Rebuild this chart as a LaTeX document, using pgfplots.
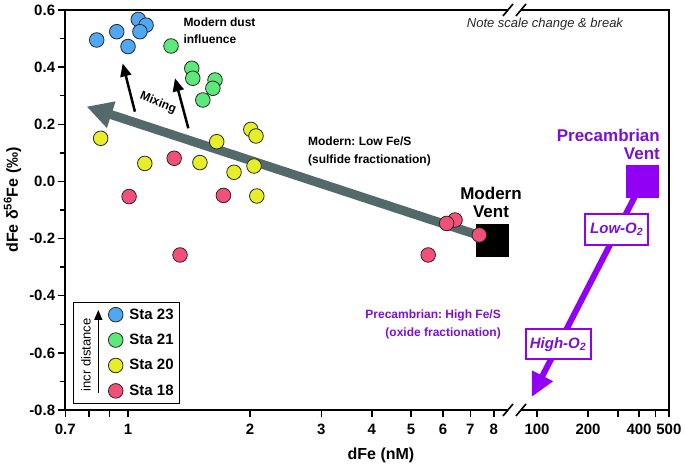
\documentclass[border=0pt]{standalone}
\usepackage{fontspec}
\setmainfont{Liberation Sans}
\usepackage{pgfplots}
\pgfplotsset{compat=1.18}
\usetikzlibrary{arrows.meta}
\frenchspacing
\definecolor{c23}{RGB}{80,168,245}
\definecolor{c21}{RGB}{92,232,122}
\definecolor{c20}{RGB}{230,238,40}
\definecolor{c18}{RGB}{242,80,120}
\definecolor{ppl}{RGB}{145,0,245}
\definecolor{pptext}{RGB}{122,16,214}
\definecolor{agray}{RGB}{84,106,106}
\pgfplotsset{sta/.style={only marks, mark=*, mark size=7.3pt,
  mark options={draw=black!85, line width=0.8pt, fill=#1},
  legend image code/.code={\path[draw=none,fill=none] (-36pt,-7.7pt) rectangle (7.7pt,7.7pt); \draw[##1] plot coordinates {(0pt,0pt)};}}}
\begin{document}
\begin{tikzpicture}
\begin{axis}[
  name=ax,
  scale only axis,
  width=603.6pt, height=400pt,
  clip=false,
  x coord trafo/.code={\pgfmathparse{(#1<50)*log10(#1)+(#1>=50)*(1.00988+0.41852*log10(#1/100))}},
  xmin=0.7, xmax=600,
  ymin=-0.8, ymax=0.6,
  xtick={0.7,0.8,0.9,1,2,3,4,5,6,7,8,100,200,300,400,500,600},
  xticklabels={0.7,,,1,2,3,4,5,6,7,8,100,200,,400,,500},
  ytick={-0.8,-0.6,-0.4,-0.2,0,0.2,0.4,0.6},
  yticklabels={-0.8,-0.6,-0.4,-0.2,0.0,0.2,0.4,0.6},
  minor ytick={-0.7,-0.5,-0.3,-0.1,0.1,0.3,0.5},
  tick pos=left,
  tick align=outside,
  major tick length=7pt, minor tick length=5pt,
  tick style={black, line width=1.5pt},
  axis line style={line width=1.8pt},
  ticklabel style={font=\fontsize{15}{15}\bfseries},
  xticklabel style={anchor=center, yshift=-12pt},
  yticklabel style={anchor=east, inner sep=0pt, xshift=-3pt},
  xlabel={dFe (nM)},
  ylabel={dFe δ\textsuperscript{56}Fe (‰)},
  label style={font=\fontsize{16}{16}\bfseries},
  xlabel style={at={(axis description cs:0.523,-0.1125)}, anchor=center},
  ylabel style={at={(axis description cs:-0.0875,0.525)}, anchor=center},
  legend cell align=left,
  legend style={at={(rel axis cs:0.0133,0.015)}, anchor=south west, draw=black, line width=0.8pt,
    inner xsep=6pt, inner ysep=5pt, row sep=10pt, font=\fontsize{15}{15}\bfseries,
    nodes={inner sep=0pt}, /tikz/every odd column/.append style={column sep=6pt}},
]
% modern trend arrow
\addplot[agray, line width=9pt, -{Triangle[length=26pt,width=26pt]}, forget plot] coordinates {(7.92,-0.204) (0.79,0.262)};
% modern vent
\addplot[only marks, mark=square*, mark size=16pt, mark options={fill=black, draw=black}, forget plot] coordinates {(7.92,-0.204)};
% precambrian arrow
\addplot[ppl, line width=6pt, -{Triangle[length=24pt,width=22pt]}, forget plot] coordinates {(420,0) (92.8,-0.755)};
\addplot[only marks, mark=square*, mark size=16pt, mark options={fill=ppl, draw=ppl}, forget plot] coordinates {(420,0)};
% mixing arrows
\addplot[black, line width=2.5pt, -{Triangle[length=13pt,width=11pt]}, forget plot] coordinates {(1.04,0.244) (0.970,0.413)};
\addplot[black, line width=2.5pt, -{Triangle[length=13pt,width=11pt]}, forget plot] coordinates {(1.409,0.186) (1.306,0.361)};
% stations
\addplot[sta=c23] coordinates {(0.837,0.495) (0.938,0.524) (1.06,0.567) (1.108,0.547) (1.07,0.524) (1.00,0.472)};
\addlegendentry{Sta 23}
\addplot[sta=c21] coordinates {(1.277,0.474) (1.437,0.396) (1.445,0.361) (1.64,0.355) (1.62,0.326) (1.53,0.285)};
\addlegendentry{Sta 21}
\addplot[sta=c20] coordinates {(0.856,0.151) (1.656,0.139) (2.01,0.182) (2.07,0.159) (1.10,0.063) (1.505,0.066) (1.827,0.032) (2.047,0.054) (2.08,-0.051)};
\addlegendentry{Sta 20}
\addplot[sta=c18] coordinates {(1.30,0.081) (1.006,-0.053) (1.72,-0.049) (1.344,-0.2575) (6.42,-0.135) (6.12,-0.147) (7.37,-0.1875) (5.51,-0.2575)};
\addlegendentry{Sta 18}
% annotations
\node[anchor=west, align=left, font=\fontsize{12}{17}\bfseries, inner sep=0pt] at (rel axis cs:0.1955,0.949) {Modern dust\\influence};
\node[anchor=west, align=left, font=\fontsize{12}{18}\bfseries, inner sep=0pt] at (rel axis cs:0.402,0.6475) {Modern: Low Fe/S\\(sulfide fractionation)};
\node[anchor=east, align=right, font=\fontsize{12}{18}\bfseries, text=pptext, inner sep=0pt] at (rel axis cs:0.7218,0.2138) {Precambrian: High Fe/S\\(oxide fractionation)};
\node[align=center, font=\fontsize{17}{18}\bfseries, inner sep=0pt] at (rel axis cs:0.7053,0.52) {Modern\\Vent};
\node[anchor=east, align=right, font=\fontsize{17}{18}\bfseries, text=pptext, inner sep=0pt] at (rel axis cs:0.9853,0.665) {Precambrian\\Vent};
\node[font=\fontsize{13}{13}\itshape, text=black!85, inner sep=0pt] at (rel axis cs:0.7947,0.965) {Note scale change \& break};
\node[font=\fontsize{12}{12}\bfseries, rotate=-22, inner sep=0pt] at (rel axis cs:0.1537,0.7675) {Mixing};
\node[draw=ppl, line width=2pt, fill=white, text=pptext, font=\fontsize{15}{15}\bfseries\itshape, minimum width=63pt, minimum height=31pt, inner sep=0pt] at (rel axis cs:0.9135,0.4513) {Low-O\textsubscript{2}};
\node[draw=ppl, line width=2pt, fill=white, text=pptext, font=\fontsize{15}{15}\bfseries\itshape, minimum width=65pt, minimum height=30pt, inner sep=0pt] at (rel axis cs:0.8163,0.1643) {High-O\textsubscript{2}};
\end{axis}
% legend decoration (drawn above the legend box)
\node[rotate=90, font=\fontsize{13}{13}\selectfont, inner sep=0pt] at ([xshift=20.7pt,yshift=55pt]ax.south west) {incr distance};
\draw[black, line width=1.5pt, -{Triangle[length=10pt,width=8pt]}] ([xshift=33pt,yshift=17pt]ax.south west) -- ([xshift=33pt,yshift=100pt]ax.south west);
% axis breaks
\foreach \yy/\anc in {0/south west, 1/north west}{
  \fill[white] ([xshift=442.7pt,yshift=-1.5pt]ax.\anc) rectangle ([xshift=455.7pt,yshift=1.5pt]ax.\anc);
  \draw[line width=1.6pt] ([xshift=437.7pt,yshift=-6pt]ax.\anc) -- ([xshift=447.7pt,yshift=6pt]ax.\anc);
  \draw[line width=1.6pt] ([xshift=450.7pt,yshift=-6pt]ax.\anc) -- ([xshift=460.7pt,yshift=6pt]ax.\anc);
}
\pgfresetboundingbox
\path ([xshift=-65.3pt,yshift=-54pt]ax.south west) rectangle ([xshift=16.1pt,yshift=10pt]ax.north east);
\end{tikzpicture}
\end{document}
